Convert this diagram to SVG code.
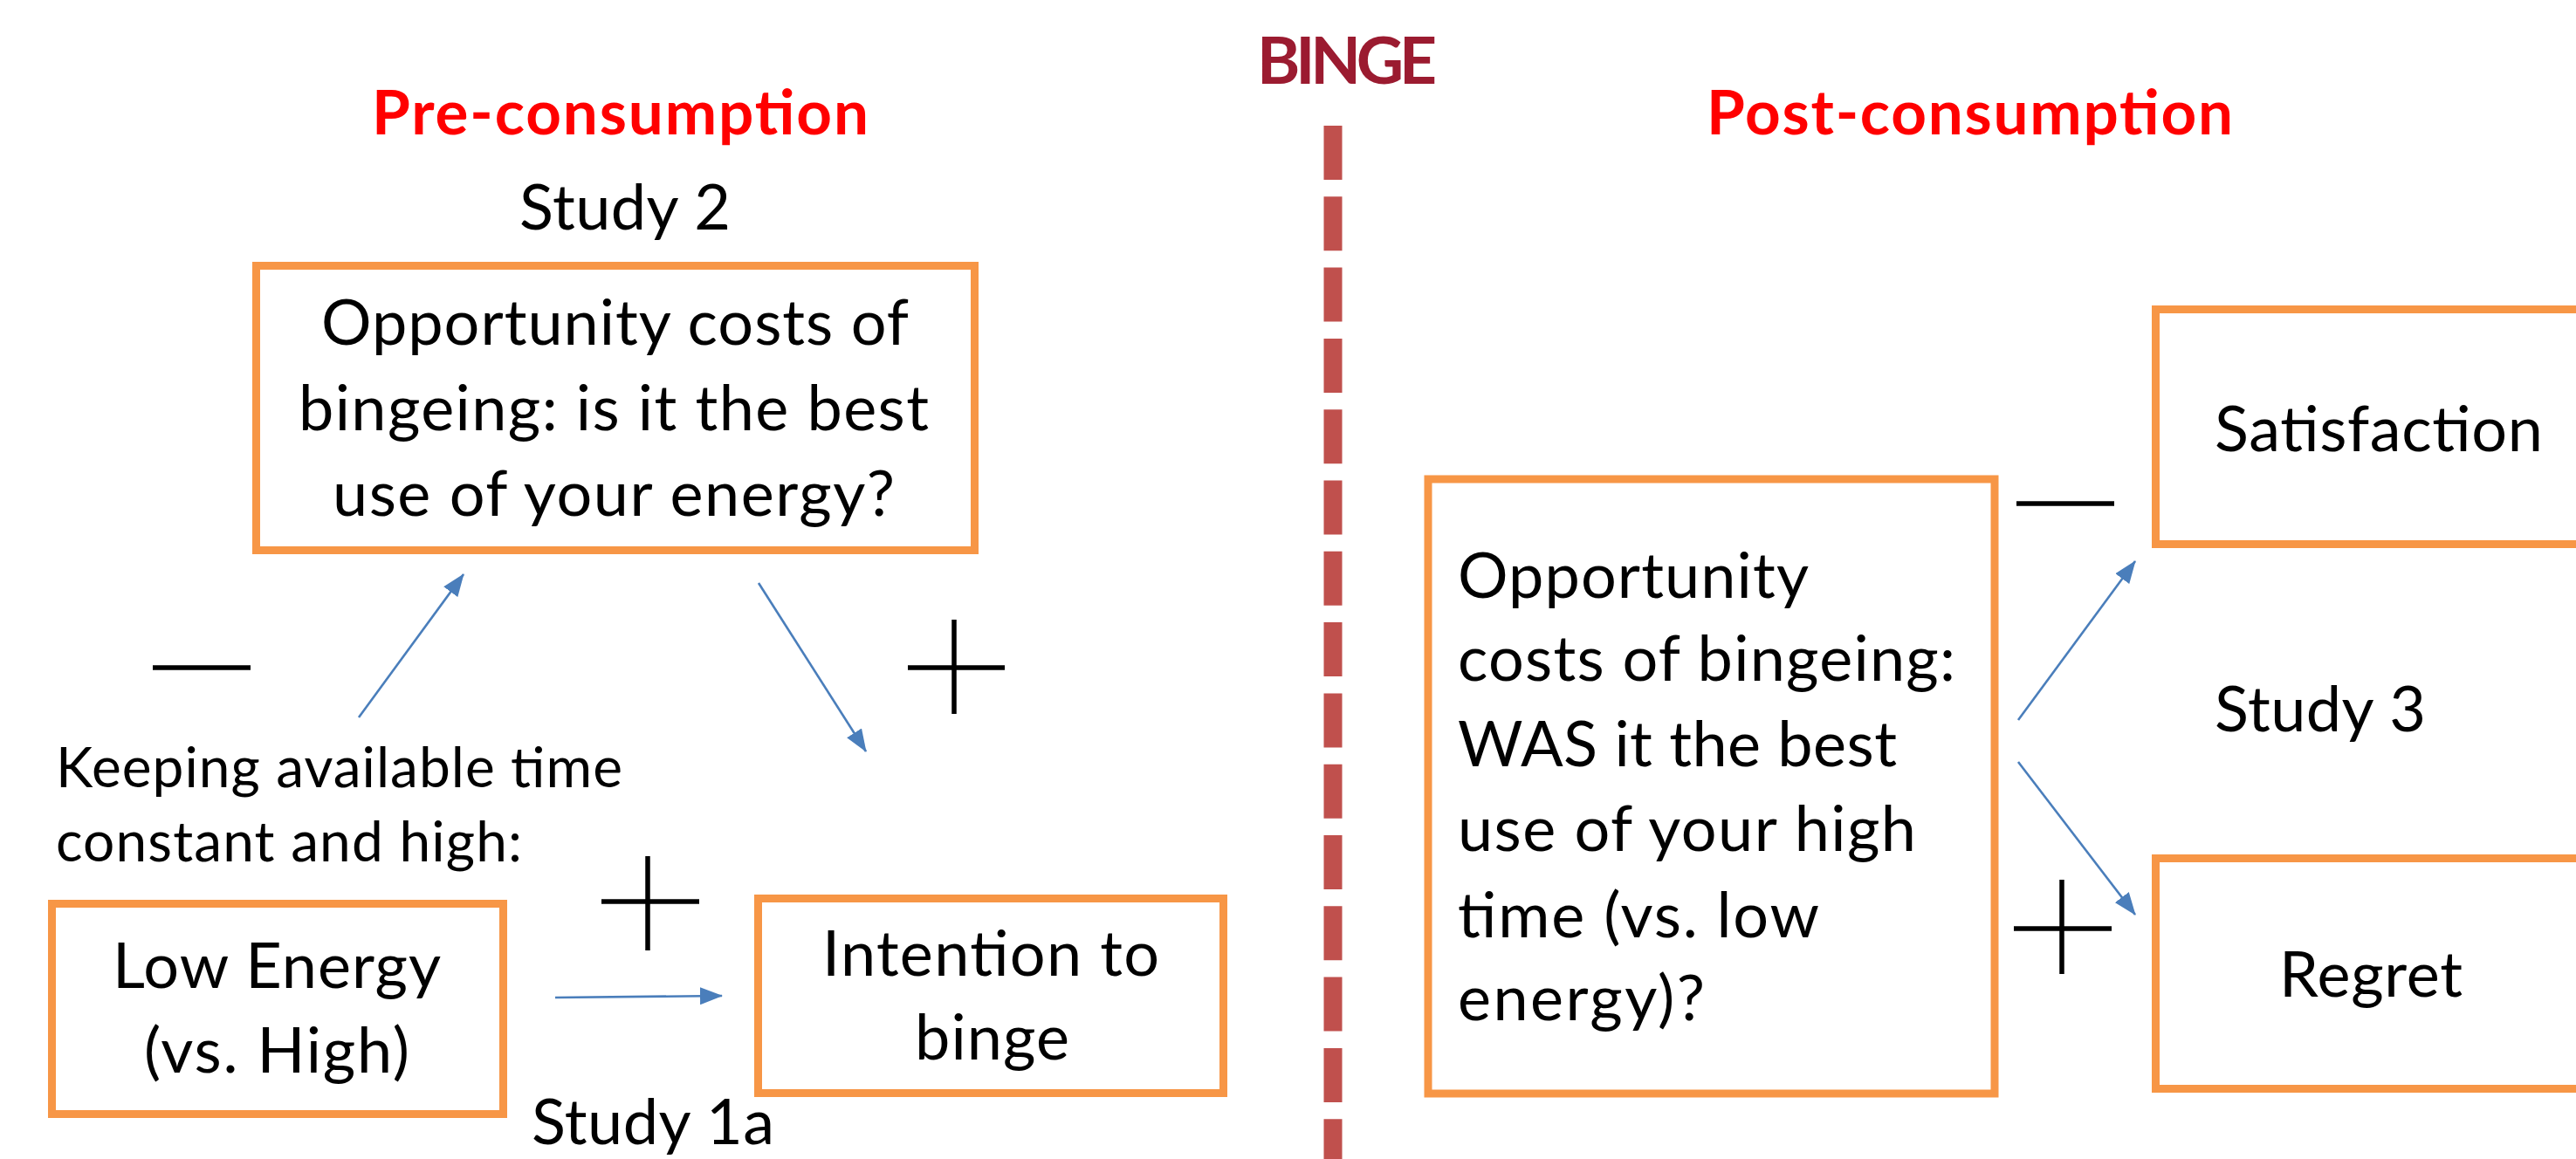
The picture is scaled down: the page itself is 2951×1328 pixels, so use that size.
<svg xmlns="http://www.w3.org/2000/svg" width="2951" height="1328" viewBox="0 0 2951 1328">
<style>
.t{font-family:Lato,"Liberation Sans",sans-serif;font-size:72px;fill:#000}
.s{font-family:Lato,"Liberation Sans",sans-serif;font-size:64px;fill:#000}
.h{font-family:Lato,"Liberation Sans",sans-serif;font-size:71px;font-weight:bold;fill:#FF0000}
.box{fill:#fff;stroke:#F79646;stroke-width:9}
.sign{stroke:#000;stroke-width:5.5;fill:none}
.arr{stroke:#4A7EBB;stroke-width:2.6;fill:none;marker-end:url(#ah)}
</style>
<defs>
<marker id="ah" markerWidth="26" markerHeight="20" refX="25" refY="10" orient="auto" markerUnits="userSpaceOnUse">
<path d="M0,0 L26,10 L0,20 z" fill="#4A7EBB"/>
</marker>
</defs>
<rect x="0" y="0" width="2951" height="1328" fill="#fff"/>

<g id="divider">
<line x1="1527" y1="144" x2="1527" y2="1328" stroke="#C0504D" stroke-width="21" stroke-dasharray="62 19.3"/>
<text x="1440" y="96" textLength="206" style="font-family:Lato,'Liberation Sans',sans-serif;font-size:75px;font-weight:bold;fill:#9B1B30">BINGE</text>
</g>

<g id="headings">
<text class="h" x="426" y="154" textLength="569">Pre-consumption</text>
<text class="h" x="1955" y="154" textLength="603">Post-consumption</text>
</g>

<g id="study-labels">
<text class="t" x="595" y="263" textLength="242">Study 2</text>
<text class="t" x="609" y="1311" textLength="278">Study 1a</text>
<text class="t" x="2537" y="838" textLength="242">Study 3</text>
</g>

<g id="node-opportunity-pre">
<rect class="box" x="293.5" y="304.5" width="823" height="326"/>
<text class="t" x="368" y="395" textLength="673">Opportunity costs of</text>
<text class="t" x="342" y="493" textLength="722">bingeing: is it the best</text>
<text class="t" x="381" y="591" textLength="644">use of your energy?</text>
</g>

<g id="condition-note">
<text class="s" x="64" y="902" textLength="649">Keeping available time</text>
<text class="s" x="64" y="987" textLength="534">constant and high:</text>
</g>

<g id="node-low-energy">
<rect class="box" x="59.5" y="1035.5" width="517" height="241"/>
<text class="t" x="129" y="1132" textLength="376">Low Energy</text>
<text class="t" x="165" y="1229" textLength="304">(vs. High)</text>
</g>

<g id="node-intention">
<rect class="box" x="868.5" y="1029.5" width="533" height="223"/>
<text class="t" x="942" y="1118" textLength="386">Intention to</text>
<text class="t" x="1048" y="1214" textLength="177">binge</text>
</g>

<g id="node-opportunity-post">
<rect class="box" x="1636" y="549" width="649" height="704"/>
<text class="t" x="1670" y="685" textLength="402">Opportunity</text>
<text class="t" x="1670" y="780" textLength="570">costs of bingeing:</text>
<text class="t" x="1670" y="878" textLength="503">WAS it the best</text>
<text class="t" x="1670" y="975" textLength="525">use of your high</text>
<text class="t" x="1670" y="1074" textLength="414">time (vs. low</text>
<text class="t" x="1670" y="1169" textLength="283">energy)?</text>
</g>

<g id="node-satisfaction">
<rect class="box" x="2469.5" y="354.5" width="600" height="269"/>
<text class="t" x="2537" y="517" textLength="376">Satisfaction</text>
</g>

<g id="node-regret">
<rect class="box" x="2469.5" y="983.5" width="600" height="264"/>
<text class="t" x="2611" y="1142" textLength="210">Regret</text>
</g>

<g id="connectors">
<line class="arr" x1="411" y1="822" x2="531" y2="658"/>
<line class="arr" x1="869" y1="668" x2="992" y2="861"/>
<line class="arr" x1="636" y1="1143" x2="827" y2="1141"/>
<line class="arr" x1="2312" y1="825" x2="2446" y2="643"/>
<line class="arr" x1="2312" y1="873" x2="2446" y2="1048"/>
</g>

<g id="signs">
<line class="sign" x1="175" y1="765" x2="287" y2="765"/>
<line class="sign" x1="1093" y1="710" x2="1093" y2="818"/>
<line class="sign" x1="1040" y1="765" x2="1151" y2="765"/>
<line class="sign" x1="742" y1="981" x2="742" y2="1089"/>
<line class="sign" x1="689" y1="1033" x2="801" y2="1033"/>
<line class="sign" x1="2310" y1="577" x2="2422" y2="577"/>
<line class="sign" x1="2362" y1="1008" x2="2362" y2="1116"/>
<line class="sign" x1="2307" y1="1064" x2="2419" y2="1064"/>
</g>
</svg>
